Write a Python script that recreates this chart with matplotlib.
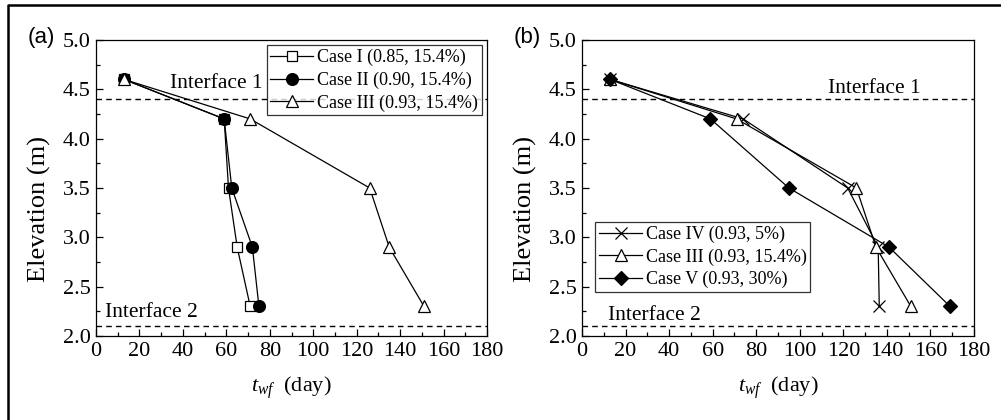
import matplotlib
matplotlib.use("Agg")
import matplotlib.pyplot as plt
from matplotlib.lines import Line2D
from matplotlib.ticker import MultipleLocator, FormatStrFormatter

plt.rcParams['font.family'] = ['Liberation Serif', 'DejaVu Serif']
plt.rcParams['mathtext.fontset'] = 'custom'
plt.rcParams['mathtext.rm'] = 'Liberation Serif'
plt.rcParams['mathtext.it'] = 'Liberation Serif:italic'

# Elevation of the monitoring points (m)
elevation = [4.6, 4.2, 3.5, 2.9, 2.3]

# Wetting-front arrival time t_wf (day), panel (a)
case1 = [13, 59, 61, 65, 71]
case2 = [13, 59, 62.5, 72, 75]
case3 = [13, 71, 126, 135, 151]
# panel (b)
case4 = [13, 74, 122, 136, 136.5]
case5 = [13, 59, 95, 141, 169]

labels_a = ['Case I (0.85, 15.4%)', 'Case II (0.90, 15.4%)', 'Case III (0.93, 15.4%)']
labels_b = ['Case IV (0.93, 5%)', 'Case III (0.93, 15.4%)', 'Case V (0.93, 30%)']

interface1 = 4.4
interface2 = 2.1

W, H = 1001, 420
fig = plt.figure(figsize=(W / 100, H / 100), dpi=100)

ax_a = fig.add_axes([96 / W, 84 / H, 391 / W, 296 / H])
ax_b = fig.add_axes([582 / W, 84 / H, 392 / W, 296 / H])

lw = 0.9
kw = dict(color='black', lw=lw, markeredgecolor='black', markeredgewidth=0.9)

ax_a.plot(case1, elevation, marker='s', ms=7.5, markerfacecolor='white', label=labels_a[0], **kw)
ax_a.plot(case2, elevation, marker='o', ms=8.5, markerfacecolor='black', label=labels_a[1], **kw)
ax_a.plot(case3, elevation, marker='^', ms=9, markerfacecolor='white', label=labels_a[2], **kw)

ax_b.plot(case4, elevation, marker='x', ms=9, markerfacecolor='none', label=labels_b[0], **kw)
ax_b.plot(case3, elevation, marker='^', ms=9, markerfacecolor='white', label=labels_b[1], **kw)
ax_b.plot(case5, elevation, marker='D', ms=7.5, markerfacecolor='black', label=labels_b[2], **kw)

for ax, tag in ((ax_a, '(a)'), (ax_b, '(b)')):
    ax.set_xlim(0, 180)
    ax.set_ylim(2.0, 5.0)
    ax.axhline(interface1, color='black', lw=1.0, ls=(0, (4, 3)))
    ax.axhline(interface2, color='black', lw=1.0, ls=(0, (4, 3)))
    ax.xaxis.set_major_locator(MultipleLocator(20))
    ax.xaxis.set_minor_locator(MultipleLocator(10))
    ax.yaxis.set_major_locator(MultipleLocator(0.5))
    ax.yaxis.set_minor_locator(MultipleLocator(0.25))
    ax.yaxis.set_major_formatter(FormatStrFormatter('%.1f'))
    ax.tick_params(which='both', direction='in', top=False, right=False, labelsize=16, width=0.9)
    ax.tick_params(which='major', length=5, pad=4)
    ax.tick_params(which='minor', length=3)
    for s in ax.spines.values():
        s.set_linewidth(0.9)
    ax.set_xlabel(r'$t_{wf}$  (day)', fontsize=16, labelpad=10)
    ax.set_ylabel('Elevation (m)', fontsize=19)
    ax.yaxis.set_label_coords(-0.115, 0.43)
    ax.text(-0.14, 1.01, tag, transform=ax.transAxes, fontsize=16,
            family='Liberation Sans', ha='center', va='center')

ax_a.text(34, 4.56, 'Interface 1', fontsize=15.5, va='center', ha='left')
ax_a.text(4, 2.24, 'Interface 2', fontsize=15.5, va='center', ha='left')
ax_b.text(113, 4.51, 'Interface 1', fontsize=15.5, va='center', ha='left')
ax_b.text(12, 2.21, 'Interface 2', fontsize=15.5, va='center', ha='left')

leg_kw = dict(fontsize=13, frameon=True, fancybox=False, edgecolor='black',
              handlelength=2.4, handletextpad=0.2, borderpad=0.2,
              labelspacing=0.3, borderaxespad=0.3)
la = ax_a.legend(loc='upper right', **leg_kw)
lb = ax_b.legend(loc='lower left', bbox_to_anchor=(0.02, 0.13), **leg_kw)
for lg in (la, lb):
    lg.get_frame().set_linewidth(0.9)

# outer frame of the figure
fig.add_artist(Line2D([8 / W, 8 / W, 1.0], [0.0, 1 - 5 / H, 1 - 5 / H],
                      transform=fig.transFigure, color='black', lw=1.8))

fig.savefig('out.png', dpi=100)
